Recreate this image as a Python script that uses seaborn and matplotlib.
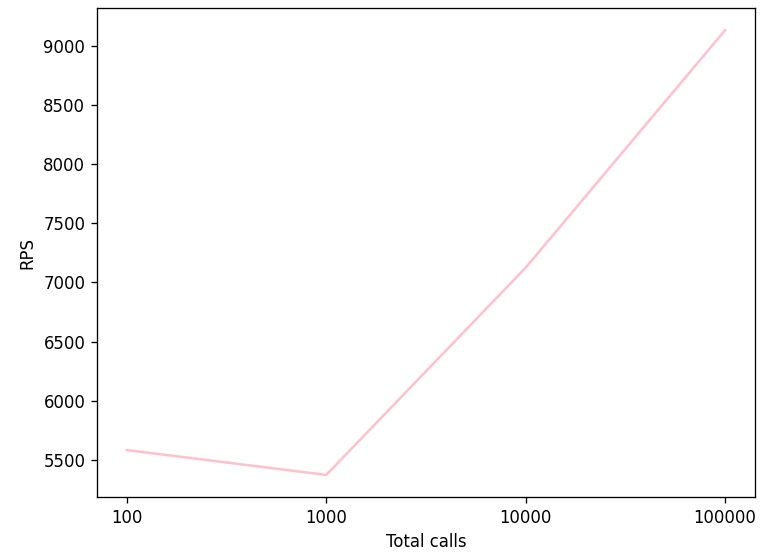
import pandas as pd
import matplotlib
matplotlib.use("Agg")
import matplotlib.pyplot as plt
import seaborn as sns

total_calls = ["100", "1000", "10000", "100000"]
rps = [5585, 5375, 7125, 9130]

df = pd.DataFrame({"Total calls": total_calls, "RPS": rps})

# the reference is a default-size figure scaled up, so render at a higher dpi
dpi = 119
fig = plt.figure(figsize=(763 / dpi, 558 / dpi), dpi=dpi)
ax = fig.add_axes([0.127, 0.109, 0.8625, 0.8767])
sns.lineplot(data=df, x="Total calls", y="RPS", color="pink", ax=ax)
ax.set_xlim(-0.15, 3.15)

fig.savefig("out.png", dpi=dpi)
